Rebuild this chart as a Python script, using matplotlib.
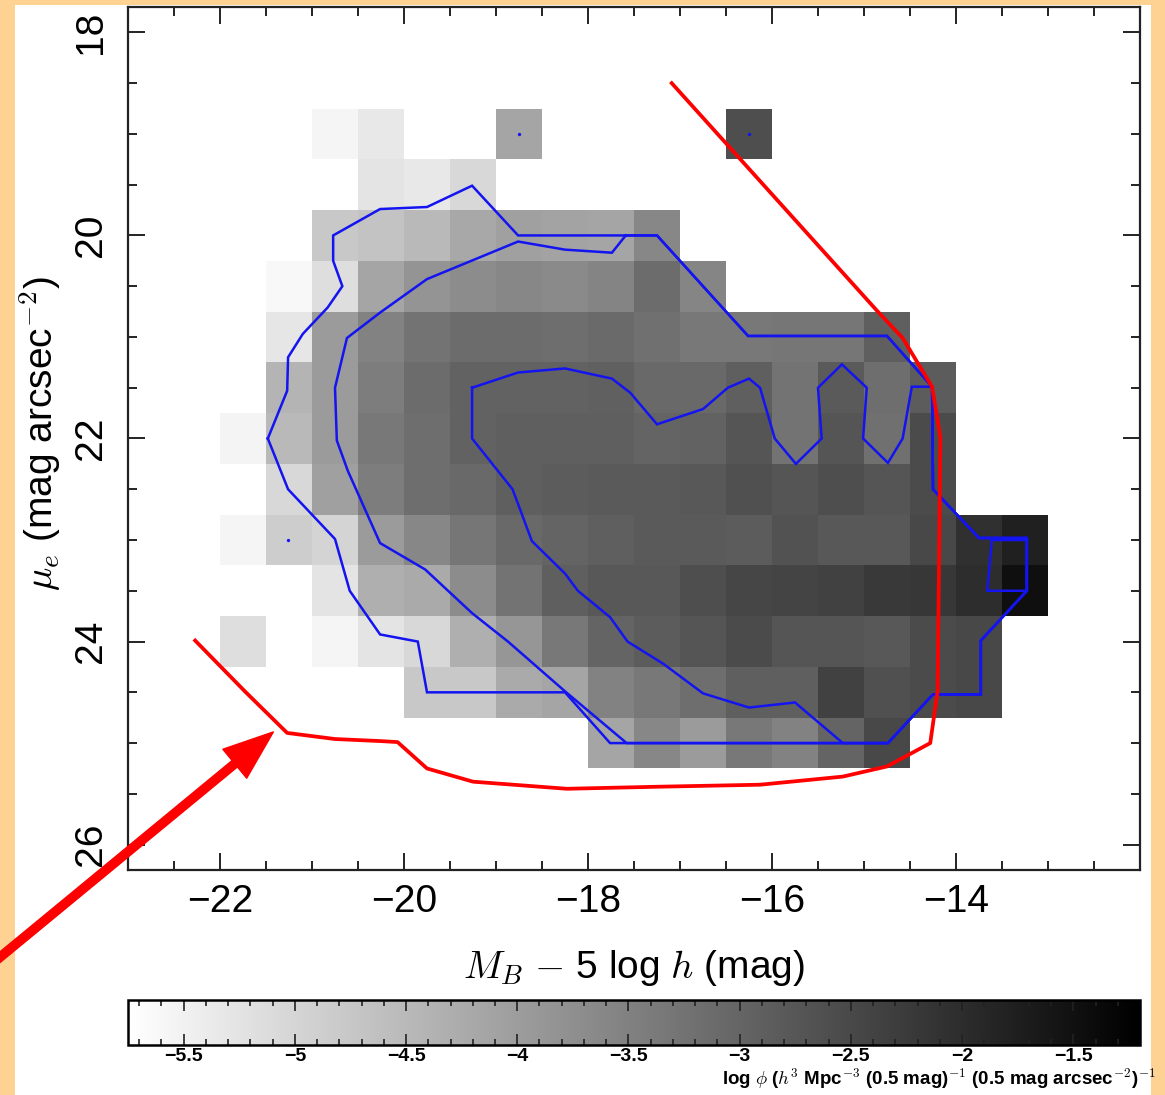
import numpy as np
import matplotlib
matplotlib.use("Agg")
import matplotlib.pyplot as plt
from matplotlib.patches import Rectangle
from matplotlib.ticker import MultipleLocator

plt.rcParams['font.family'] = ['Liberation Sans', 'DejaVu Sans']
plt.rcParams['mathtext.fontset'] = 'cm'

nan = np.nan

# --------------------------------------------------------------------------
# bivariate brightness distribution: log phi per (0.5 mag x 0.5 mag) bin
# --------------------------------------------------------------------------
mag_edges = [-22.0, -21.5, -21.0, -20.5, -20.0, -19.5, -19.0, -18.5, -18.0, -17.5,
             -17.0, -16.5, -16.0, -15.5, -15.0, -14.5, -14.0, -13.5, -13.0]
mu_edges = [18.75, 19.25, 19.75, 20.25, 20.75, 21.25, 21.75, 22.25, 22.75,
            23.25, 23.75, 24.25, 24.75, 25.25]

# rows run mu_e = 19.0 ... 25.0, columns M_B = -21.75 ... -13.25
log_phi = [
    [nan, nan, -5.57, -5.34, nan, nan, -4.14, nan, nan, nan, nan, -2.59, nan, nan, nan, nan, nan, nan],
    [nan, nan, nan, -5.27, -5.34, -5.04, nan, nan, nan, nan, nan, nan, nan, nan, nan, nan, nan, nan],
    [nan, nan, -4.77, -4.68, -4.50, -4.20, -4.05, -4.11, -4.14, -3.61, nan, nan, nan, nan, nan, nan, nan, nan],
    [nan, -5.61, -5.16, -4.14, -3.84, -3.70, -3.61, -3.66, -3.56, -3.13, -3.57, nan, nan, nan, nan, nan, nan, nan],
    [nan, -5.30, -3.97, -3.52, -3.25, -3.13, -3.13, -3.16, -3.09, -3.20, -3.34, -3.34, -3.31, -3.31, -2.90, nan, nan, nan],
    [nan, -4.41, -3.97, -3.43, -3.13, -2.95, -2.95, -2.95, -2.91, -3.07, -3.07, -2.90, -3.25, -2.81, -3.16, -2.84, nan, nan],
    [-5.54, -4.50, -3.97, -3.34, -3.16, -2.95, -2.90, -2.90, -2.90, -2.98, -2.95, -2.72, -3.25, -2.72, -3.20, -2.54, nan, nan],
    [nan, -5.04, -4.05, -3.43, -3.16, -3.07, -2.90, -2.84, -2.81, -2.81, -2.77, -2.63, -2.72, -2.59, -2.72, -2.54, nan, nan],
    [-5.57, -4.86, -4.98, -3.97, -3.61, -3.31, -3.07, -2.98, -2.90, -2.81, -2.81, -2.84, -2.66, -2.77, -2.77, -2.48, -2.06, -1.77],
    [nan, nan, -5.27, -4.32, -4.23, -3.70, -3.25, -2.90, -2.77, -2.77, -2.59, -2.45, -2.41, -2.36, -2.23, -2.18, -2.00, -1.47],
    [-5.16, nan, -5.57, -5.27, -5.04, -4.32, -3.88, -3.34, -2.98, -2.84, -2.72, -2.54, -2.72, -2.72, -2.77, -2.54, -2.48, nan],
    [nan, nan, nan, nan, -4.77, -4.77, -4.23, -4.14, -3.52, -3.34, -3.16, -2.90, -2.90, -2.36, -2.63, -2.54, -2.48, nan],
    [nan, nan, nan, nan, nan, nan, nan, nan, -4.14, -3.61, -3.97, -3.34, -3.52, -2.98, -2.48, nan, nan, nan],
]
phi_min, phi_max = -5.75, -1.2

# contour levels (traced polylines, M_B / mu_e)
outer_mag = [-21.48, -21.27, -21.26, -21.10, -20.83, -20.67, -20.77, -20.77, -20.26, -19.75,
             -19.26, -18.76, -17.25, -16.26, -14.75, -14.26, -14.25, -13.75, -13.23, -13.23,
             -13.73, -13.73, -14.25, -14.74, -17.76, -18.25, -19.75, -19.85, -20.26, -20.59,
             -20.75, -21.26, -21.48]
outer_mu = [22.00, 21.53, 21.20, 20.97, 20.71, 20.50, 20.25, 20.00, 19.74, 19.72,
            19.51, 20.00, 20.00, 20.99, 20.99, 21.49, 22.50, 22.98, 22.98, 23.50,
            23.99, 24.52, 24.52, 25.00, 25.00, 24.50, 24.50, 24.00, 23.93, 23.50,
            22.99, 22.50, 22.00]

middle_mag = [-17.59, -17.74, -18.25, -18.76, -19.75, -20.26, -20.62, -20.75, -20.73, -20.61,
              -20.26, -19.77, -19.26, -18.87, -18.25, -17.58, -14.74, -14.25, -13.73, -13.73,
              -13.23, -13.23, -13.75, -14.25, -14.26, -14.75, -16.26, -17.25, -17.59]
middle_mu = [20.00, 20.17, 20.14, 20.06, 20.43, 20.76, 21.01, 21.50, 22.02, 22.32,
             23.03, 23.29, 23.72, 24.00, 24.49, 25.00, 25.00, 24.52, 24.52, 23.99,
             23.50, 22.98, 22.98, 22.50, 21.49, 20.99, 20.99, 20.00, 20.00]

inner_mag = [-19.26, -18.76, -18.25, -17.74, -17.54, -17.25, -16.75, -16.48, -16.25, -16.13,
             -15.97, -15.74, -15.46, -15.50, -15.24, -14.97, -15.01, -14.74, -14.58, -14.48,
             -14.26, -14.25, -13.75, -13.23, -13.23, -13.73, -13.73, -14.25, -14.74, -15.23,
             -15.75, -16.25, -16.75, -17.18, -17.57, -17.76, -18.11, -18.25, -18.61, -18.82,
             -19.26, -19.26]
inner_mu = [21.50, 21.35, 21.31, 21.41, 21.55, 21.86, 21.71, 21.50, 21.41, 21.50,
            22.00, 22.25, 22.00, 21.50, 21.27, 21.50, 22.00, 22.24, 22.00, 21.49,
            21.49, 22.50, 22.98, 22.98, 23.50, 23.99, 24.52, 24.52, 25.00, 25.00,
            24.60, 24.65, 24.51, 24.22, 24.00, 23.76, 23.50, 23.33, 23.01, 22.50,
            22.00, 21.50]

peak_mag = [-13.61, -13.23, -13.23, -13.66, -13.61]
peak_mu = [23.00, 23.00, 23.50, 23.50, 23.00]

spot_mag = [-18.75, -16.25, -21.26]
spot_mu = [19.0, 19.0, 23.0]

# selection limits
limit_mag = [-17.09, -14.86, -14.58, -14.26, -14.17, -14.20, -14.28, -14.75, -15.23, -16.13,
             -17.25, -18.23, -19.25, -19.75, -20.07, -20.26, -20.75, -21.27, -21.73, -22.27]
limit_mu = [18.50, 20.74, 21.01, 21.49, 21.99, 24.49, 25.00, 25.23, 25.33, 25.41,
            25.43, 25.45, 25.38, 25.25, 24.99, 24.98, 24.96, 24.90, 24.49, 23.99]

arrow_tip = (-21.42, 24.89)

cbar_ticks = [-5.5, -5.0, -4.5, -4.0, -3.5, -3.0, -2.5, -2.0, -1.5]
cbar_labels = ['\u22125.5', '\u22125', '\u22124.5', '\u22124', '\u22123.5', '\u22123',
               '\u22122.5', '\u22122', '\u22121.5']

# --------------------------------------------------------------------------
W, H = 1165, 1095
fig = plt.figure(figsize=(W / 100, H / 100), dpi=100)
fig.patch.set_facecolor('#fdd293')
fig.patches.append(Rectangle((15 / W, 0), (1151 - 15) / W, 1 - 5 / H,
                             transform=fig.transFigure, facecolor='white',
                             edgecolor='none', zorder=-1))

ax = fig.add_axes([128 / W, 1 - 870 / H, (1140 - 128) / W, (870 - 7) / H])
grid = np.ma.masked_invalid(np.array(log_phi))
mesh = ax.pcolormesh(mag_edges, mu_edges, grid, cmap='gray_r',
                     vmin=phi_min, vmax=phi_max, shading='flat')

blue = '#1414f0'
for xs, ys in [(outer_mag, outer_mu), (middle_mag, middle_mu),
               (inner_mag, inner_mu), (peak_mag, peak_mu)]:
    ax.plot(xs, ys, color=blue, lw=1.8, solid_joinstyle='miter')
ax.plot(spot_mag, spot_mu, 'o', color=blue, ms=2.4, mec='none')

ax.plot(limit_mag, limit_mu, color='#ff0000', lw=2.7, solid_joinstyle='round')

ax.annotate('', xy=arrow_tip, xycoords='data',
            xytext=(-0.005, 1 - 962 / H), textcoords='figure fraction',
            arrowprops=dict(facecolor='#ff0000', edgecolor='#ff0000',
                            width=6, headwidth=27, headlength=36, shrink=0),
            annotation_clip=False)

ax.set_xlim(-23, -12)
ax.set_ylim(26.25, 17.75)
ax.set_xticks([-22, -20, -18, -16, -14])
ax.set_xticklabels(['\u221222', '\u221220', '\u221218', '\u221216', '\u221214'])
ax.set_yticks([18, 20, 22, 24, 26])
ax.xaxis.set_minor_locator(MultipleLocator(0.5))
ax.yaxis.set_minor_locator(MultipleLocator(0.5))
ax.tick_params(which='both', direction='in', top=True, right=True,
               color='#222222', width=1.4)
ax.tick_params(which='major', length=12, labelsize=28)
ax.tick_params(which='minor', length=6.5)
ax.tick_params(axis='x', which='major', pad=10)
ax.tick_params(axis='y', which='major', pad=14)
for lab in ax.get_yticklabels():
    lab.set_rotation(90)
    lab.set_va('center')
for sp in ax.spines.values():
    sp.set_linewidth(1.6)
    sp.set_color('#222222')

fig.text(634 / W, 1 - 968 / H, r'$\mathbf{\mathit{M_B}}$ $-$ 5 log $h$ (mag)',
         ha='center', va='center', fontsize=28)
fig.text(40 / W, 1 - 434 / H, r'$\mu_e$ (mag arcsec$^{-2}$)',
         ha='center', va='center', rotation=90, fontsize=28)

# colour bar
cax = fig.add_axes([128 / W, 1 - 1045 / H, (1140 - 128) / W, 45 / H])
cb = fig.colorbar(mesh, cax=cax, orientation='horizontal')
cb.set_ticks(cbar_ticks)
cb.set_ticklabels(cbar_labels)
cax.xaxis.set_minor_locator(MultipleLocator(0.1))
cax.tick_params(which='both', direction='in', top=True, bottom=True,
                color='#222222', width=1.2)
cax.tick_params(which='major', length=8, labelsize=14, pad=2)
cax.tick_params(which='minor', length=4)
for lab in cax.get_xticklabels():
    lab.set_fontweight('bold')
cb.outline.set_linewidth(1.8)

fig.text(1156 / W, 1 - 1079 / H,
         r'log $\phi$ ($h^3$ Mpc$^{-3}$ (0.5 mag)$^{-1}$ (0.5 mag arcsec$^{-2}$)$^{-1}$',
         ha='right', va='center', fontsize=13.5, fontweight='bold')

fig.savefig('out.png', dpi=100, facecolor=fig.get_facecolor())
